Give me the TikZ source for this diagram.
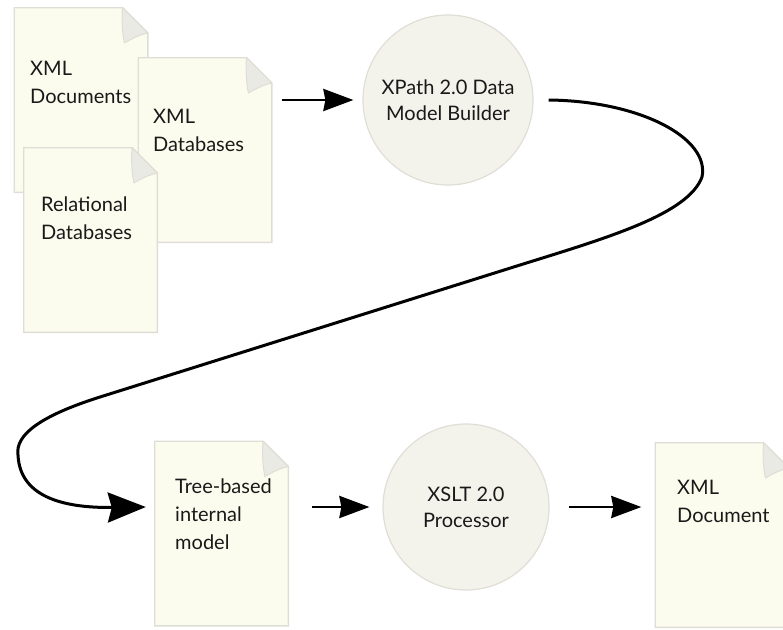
\documentclass[tikz,border=0pt]{standalone}
\usepackage{fontspec}
\setmainfont{Lato}
\usetikzlibrary{arrows.meta}
\definecolor{pagefill}{HTML}{FCFCEE}
\definecolor{pageline}{HTML}{DEDED6}
\definecolor{flapfill}{HTML}{EAEAE4}
\definecolor{ballfill}{HTML}{F4F3EB}
\definecolor{ballline}{HTML}{DFDED7}

\begin{document}
\begin{tikzpicture}[x=1pt, y=-1pt]
    \tikzstyle{arrow} = [line width=2.8pt, -{Stealth[length=30pt, width=22pt, inset=2pt]}]
    \tikzstyle{bigarrow} = [line width=3pt, -{Stealth[length=38pt, width=30pt, inset=4pt]}]
    \tikzstyle{words} = [anchor=north west, align=left, inner sep=0pt, text=black!90, font=\fontsize{20}{28}\selectfont]
    \tikzstyle{ball} = [draw=ballline, fill=ballfill, line width=1.2pt, circle, align=center, text=black!90, font=\fontsize{20}{26}\selectfont]
    \tikzstyle{page} = [rectangle, minimum width=135pt, minimum height=186pt, inner sep=0pt,
      path picture={
        \filldraw[fill=pagefill, draw=pageline, line width=1.4pt]
          ([shift={(.7pt,-.7pt)}]path picture bounding box.north west)
          -- ([shift={(-26pt,-.7pt)}]path picture bounding box.north east)
          -- ([shift={(-.7pt,-26pt)}]path picture bounding box.north east)
          -- ([shift={(-.7pt,.7pt)}]path picture bounding box.south east)
          -- ([shift={(.7pt,.7pt)}]path picture bounding box.south west) -- cycle;
        \filldraw[fill=flapfill, draw=pageline, line width=1pt, line join=round]
          ([shift={(-26pt,-.7pt)}]path picture bounding box.north east)
          .. controls ([shift={(-27pt,-14pt)}]path picture bounding box.north east) and ([shift={(-26pt,-28pt)}]path picture bounding box.north east) .. ([shift={(-24pt,-36pt)}]path picture bounding box.north east)
          .. controls ([shift={(-14pt,-30pt)}]path picture bounding box.north east) and ([shift={(-6pt,-27pt)}]path picture bounding box.north east) .. ([shift={(-.7pt,-26pt)}]path picture bounding box.north east)
          -- cycle;
      }]

    \path[use as bounding box, clip] (0,0) rectangle (783,629);

    % Source pages, top left
    \node [page] (docA) at (81,100) {};
    \node [words] (docAtext) at (30,61) {XML\\Documents};

    \node [page] (docB) at (205,150) {};
    \node [words] (docBtext) at (153,109) {XML\\Databases};

    \node [page] (docC) at (90.5,240) {};
    \node [words] (docCtext) at (41,197) {Relational\\Databases};

    % Builder circle
    \node [ball, minimum size=170pt] (xpath) at (448,100) {XPath 2.0 Data\\Model Builder};
    \draw [arrow] ([xshift=9pt]docB.east |- xpath.west) -- ([xshift=-9pt]xpath.west);

    % Internal model page, bottom left
    \node [page] (tree) at (221.5,533.5) {};
    \node [words] (treetext) at (175,479) {Tree-based\\internal\\model};

    % Processor circle
    \node [ball, minimum size=166pt] (xslt) at (466,507) {XSLT 2.0\\Processor};
    \draw [arrow] ([xshift=23pt]tree.east |- xslt.west) -- ([xshift=-13pt]xslt.west);

    % Result page, bottom right
    \node [page] (docE) at (722,535) {};
    \node [words] (docEtext) at (677,480) {XML\\Document};
    \draw [arrow] ([xshift=19pt]xslt.east) -- ([xshift=-13pt]docE.west |- xslt.east);

    % Long bend from builder down to the internal model
    \draw [bigarrow] ([xshift=15pt]xpath.east) .. controls (640,101) and (710,138) .. (702,177)
      .. controls (688,214) and (610,237) .. (520,265) -- (100,397)
      .. controls (40,416) and (15,435) .. (18,455)
      .. controls (20,500) and (70,508) .. ([xshift=-8pt]tree.west |- xslt.west);
\end{tikzpicture}
\end{document}
